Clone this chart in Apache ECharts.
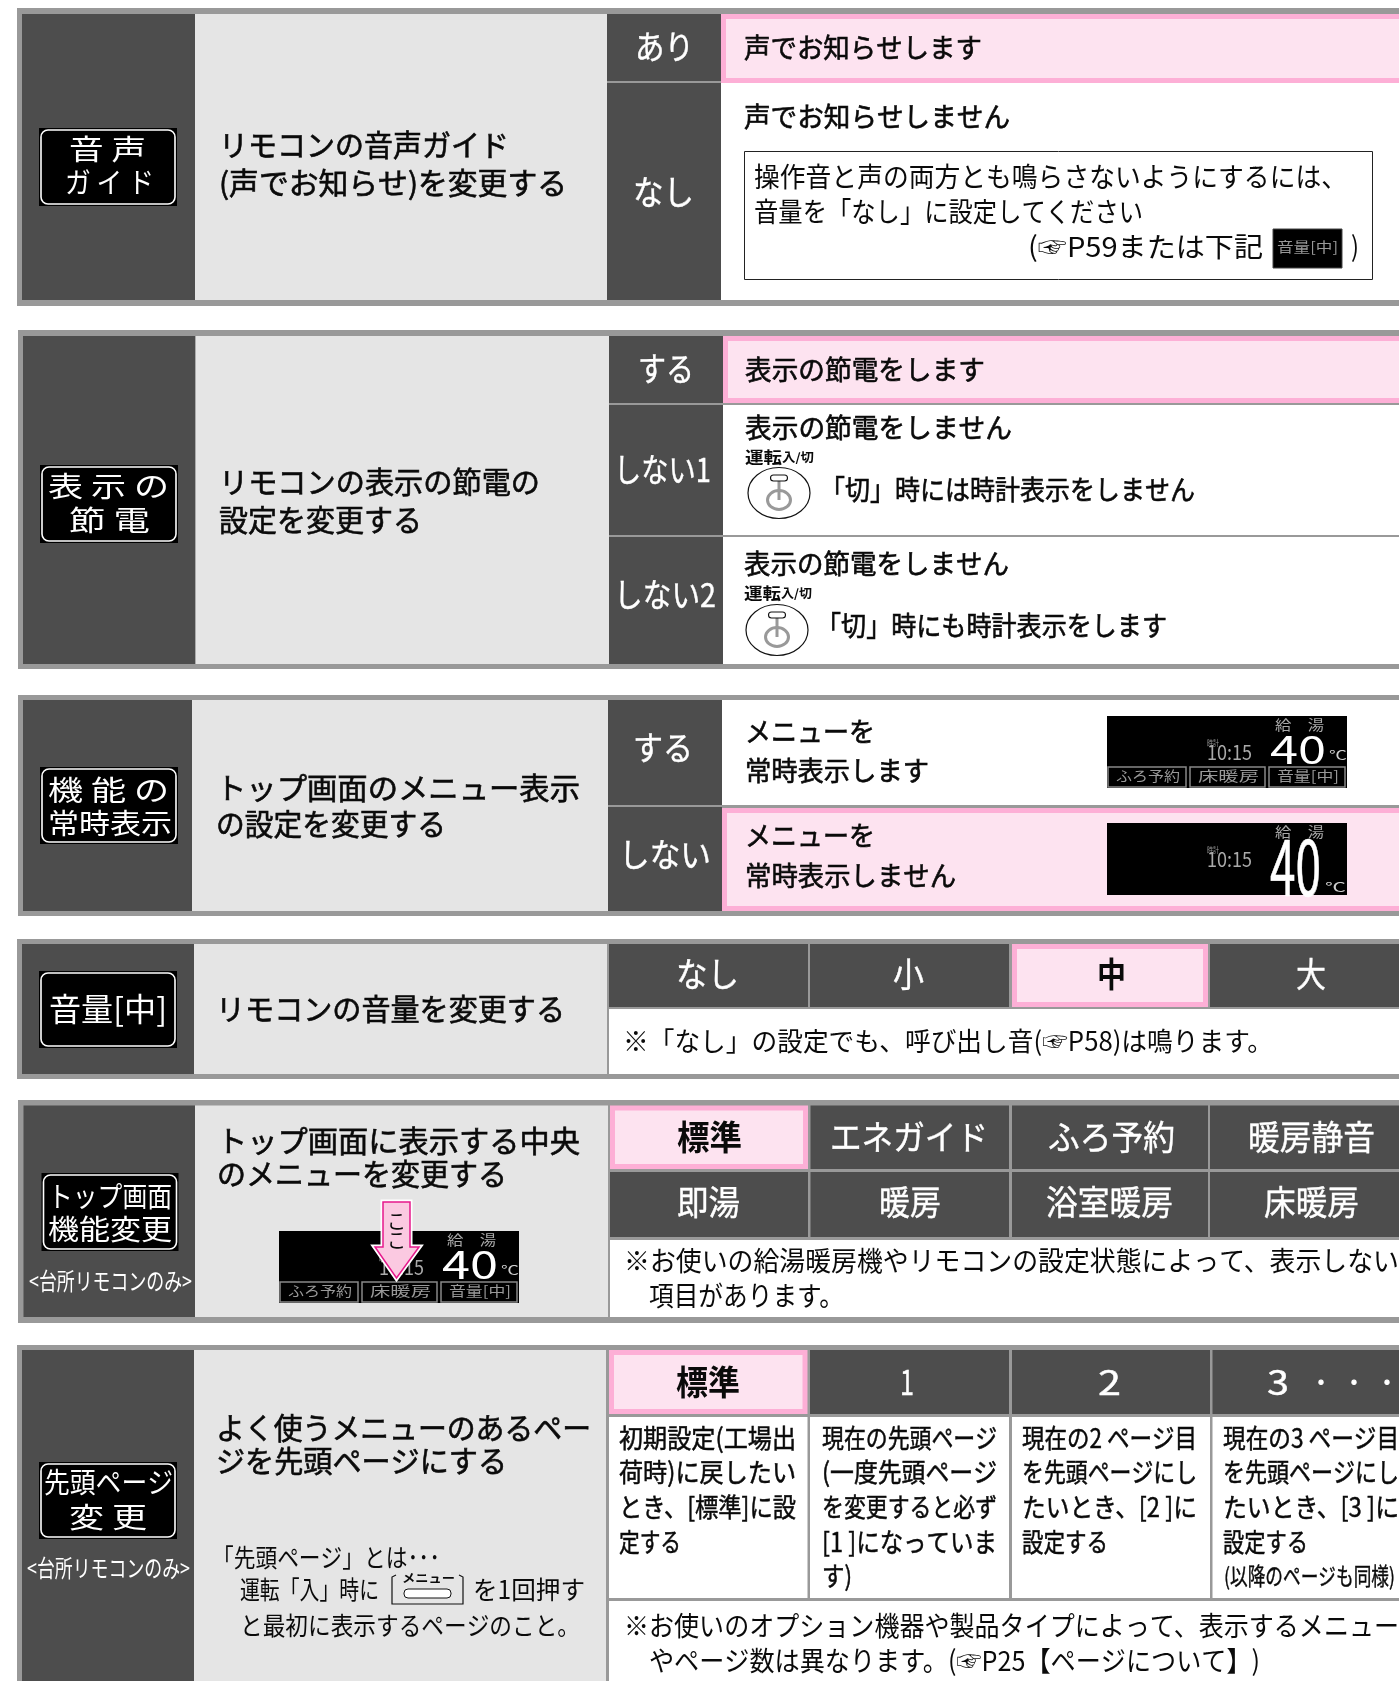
<!DOCTYPE html>
<html lang="ja"><head><meta charset="utf-8">
<style>html,body{margin:0;padding:0;background:#fff}#c{width:1399px;height:1681px}</style>
<script src="https://cdn.jsdelivr.net/npm/echarts@6/dist/echarts.min.js"></script>
</head><body><div id="c"></div>
<script>
// ---------- content ----------
const lcdLabels = [["音 声","ガ イ ド"],["表 示 の","節 電"],["機 能 の","常時表示"],["音量[中]"],["トップ画面","機能変更"],["先頭ページ","変 更"]];
const headings = [["リモコンの音声ガイド","(声でお知らせ)を変更する"],["リモコンの表示の節電の","設定を変更する"],["トップ画面のメニュー表示","の設定を変更する"],["リモコンの音量を変更する"],["トップ画面に表示する中央","のメニューを変更する"],["よく使うメニューのあるペー","ジを先頭ページにする"]];
const kitchenOnly = "<台所リモコンのみ>";
const voiceOptions = ["あり","なし"];
const voiceText = ["声でお知らせします","声でお知らせしません"];
const voiceNote = ["操作音と声の両方とも鳴らさないようにするには、","音量を「なし」に設定してください","(☞P59または下記",")"];
const savingOptions = ["する","しない1","しない2"];
const savingText = ["表示の節電をします","表示の節電をしません","「切」時には時計表示をしません","「切」時にも時計表示をします"];
const powerLabel = ["運転","入/切"];
const menuOptions = ["する","しない"];
const menuText = ["メニューを","常時表示します","常時表示しません"];
const volumeOptions = ["なし","小","中","大"];
const volumeNote = "※「なし」の設定でも、呼び出し音(☞P58)は鳴ります。";
const centerRow1 = ["標準","エネガイド","ふろ予約","暖房静音"];
const centerRow2 = ["即湯","暖房","浴室暖房","床暖房"];
const centerNote = ["※お使いの給湯暖房機やリモコンの設定状態によって、表示しない","項目があります。"];
const pageOptions = ["標準","1","2","3","・"];
const pageCol1 = ["初期設定(工場出","荷時)に戻したい","とき、[標準]に設","定する"];
const pageCol2 = ["現在の先頭ページ","(一度先頭ページ","を変更すると必ず","[1 ]になっていま","す)"];
const pageCol3 = ["現在の2 ページ目","を先頭ページにし","たいとき、[2 ]に","設定する"];
const pageCol4 = ["現在の3 ページ目","を先頭ページにし","たいとき、[3 ]に","設定する","(以降のページも同様)"];
const pageNote = ["※お使いのオプション機器や製品タイプによって、表示するメニュー","やページ数は異なります。(☞P25【ページについて】)"];
const pageExplain = ["「先頭ページ」とは･･･","運転「入」時に","を1回押す","と最初に表示するページのこと。"];
const menuKey = "メニュー";
const displayText = ["給　湯","10:15","40","℃","ふろ予約","床暖房","音量[中]","時計"];
const arrowText = ["こ","こ"];

// ---------- styles ----------
const DARK="#4d4d4d",LIGHT="#e5e5e5",FRAME="#999999",PINKB="#fdafd6",PINK="#fde3f0",WHITE="#ffffff",INK="#0a0a0a";
const FONT='"Noto Sans CJK JP","DejaVu Sans",sans-serif';
const g=[];
const ctx=document.createElement("canvas").getContext("2d");
function R(x0,y0,x1,y1,fill,extra){g.push({type:"rect",silent:true,shape:Object.assign({x:x0,y:y0,width:x1-x0,height:y1-y0},extra&&extra.shape||{}),style:{fill:fill,stroke:extra&&extra.stroke||null,lineWidth:extra&&extra.lw||0}});}
function T(s,x0,x1,y,size,o){o=o||{};const w=o.weight||"normal";const fs=size>=18?size*1.06:size;const font=w+" "+fs+"px "+FONT;ctx.font=font;const m=ctx.measureText(s).width;
  const col=o.fill||INK;const st={text:s,x:0,y:0,font:font,fill:col,textAlign:"left",textVerticalAlign:"middle"};
  if(o.b){st.stroke=col;st.lineWidth=o.b;}
  g.push({type:"text",silent:true,x:x0,y:y-1,scaleX:(x1-x0)/m,scaleY:o.sy||1,style:st});}
function pinkCell(x0,y0,x1,y1,b){R(x0,y0,x1,y1,PINKB);R(x0+b,y0+b,x1-b,y1-b,PINK);}
function lcd(x0,y0,x1,y1){R(x0,y0,x1,y1,"#000");R(x0+2,y0+2,x1-2,y1-2,"#000",{stroke:"#fff",lw:1.6,shape:{r:7}});}
function display(X,Y,big){
  R(X,Y,X+240,Y+72,"#000");
  T(displayText[0],X+168,X+217,Y+10,14,{fill:"#aaaaaa"});
  T(displayText[7],X+100,X+112,Y+28,8,{fill:"#999999"});
  T(displayText[1],X+100,X+145,Y+37,19,{fill:"#aaaaaa"});
  if(big){T(displayText[2],X+163,X+214,Y+45,36,{fill:"#fff",sy:2,b:.3});T(displayText[3],X+218,X+239,Y+65,12,{fill:"#cccccc"});}
  else{
    T(displayText[2],X+163,X+219,Y+34,36,{fill:"#fff"});T(displayText[3],X+222,X+240,Y+40,12,{fill:"#cccccc"});
    [[1,79,0],[83,158,1],[162,238,2]].forEach(c=>{R(X+c[0],Y+51,X+c[1],Y+71,"#000",{stroke:"#888",lw:1.5});T(displayText[4+c[2]],X+c[0]+8,X+c[1]-6,Y+61,14,{fill:"#999999"});});
  }
}
function power(cx,cy){
  g.push({type:"ellipse",silent:true,shape:{cx:cx,cy:cy,rx:31,ry:25.5},style:{fill:"#fff",stroke:"#111",lineWidth:1.2}});
  g.push({type:"ellipse",silent:true,shape:{cx:cx,cy:cy+7,rx:11.5,ry:9.5},style:{fill:"none",stroke:"#999",lineWidth:3}});
  g.push({type:"line",silent:true,shape:{x1:cx,y1:cy-12,x2:cx,y2:cy+7},style:{stroke:"#999",lineWidth:3}});
  R(cx-8.5,cy-18,cx+8.5,cy-12,"#fff",{stroke:"#111",lw:1.1,shape:{r:3}});
}
function white(s,x0,x1,y,size,o){T(s,x0,x1,y,size,Object.assign({fill:"#fff",b:.4},o||{}));}
const EM=.6;

// ---------- panel 1 ----------
R(17,8,1399,306,FRAME);R(22,14,195,300,DARK);R(195,14,607,300,LIGHT);
R(607,14,721,81,DARK);R(607,83,721,300,DARK);R(721,83,1399,300,WHITE);pinkCell(721,14,1410,83,5);
lcd(39,128,177,206);
T(lcdLabels[0][0],69,146,150,27,{fill:"#fff"});T(lcdLabels[0][1],65,154,183,27,{fill:"#fff"});
T(headings[0][0],219,509,146,28,{b:EM});T(headings[0][1],219,567,184,28,{b:EM});
white(voiceOptions[0],635,694,48,31);white(voiceOptions[1],633,694,193,32);
T(voiceText[0],744,982,49,26,{b:EM});T(voiceText[1],744,1010,118,26,{b:EM});
R(744.5,151.5,1372.5,279.5,"#fff",{stroke:"#222",lw:1});
T(voiceNote[0],754,1347,178,26);T(voiceNote[1],754,1143,213,26);T(voiceNote[2],1028,1263,248,26);
R(1273,229,1342,268,"#000",{stroke:"#444",lw:1});T(lcdLabels[3][0],1277,1338,248,14,{fill:"#999"});
T(voiceNote[3],1351,1359,248,26);

// ---------- panel 2 ----------
R(18,330,1399,669,FRAME);R(23,336,195.5,664,DARK);R(195.5,336,609,664,LIGHT);
R(609,336,723,403,DARK);R(609,405,723,535,DARK);R(609,537,723,664,DARK);
R(723,405,1399,535,WHITE);R(723,537,1399,664,WHITE);pinkCell(723,336,1410,403,5);
lcd(40,465,178,543);
T(lcdLabels[1][0],48,169,487,27,{fill:"#fff"});T(lcdLabels[1][1],69,150,521,27,{fill:"#fff"});
T(headings[1][0],219,540,483,28,{b:EM});T(headings[1][1],219,422,521,28,{b:EM});
white(savingOptions[0],638,694,370,31);white(savingOptions[1],614,711,471,31);white(savingOptions[2],614,716,596,31);
T(savingText[0],745,985,371,26,{b:EM});T(savingText[1],745,1012,429,26,{b:EM});
T(powerLabel[0],745,782,458,16,{weight:"bold"});T(powerLabel[1],782,814,458,12,{weight:"bold"});power(779,493);
T(savingText[2],820,1195,491,26,{b:EM});
T(savingText[1],744,1009,565,26,{b:EM});T(powerLabel[0],744,781,594,16,{weight:"bold"});T(powerLabel[1],781,812,594,12,{weight:"bold"});power(777,630);
T(savingText[3],816,1167,627,26,{b:EM});

// ---------- panel 3 ----------
R(18,695,1399,916,FRAME);R(23,700,192,911,DARK);R(192,700,608,911,LIGHT);
R(608,700,722,805,DARK);R(608,807,722,911,DARK);R(722,700,1399,805,WHITE);pinkCell(722,808,1410,911,5);
lcd(40,767,178,844);
T(lcdLabels[2][0],48,169,791,27,{fill:"#fff"});T(lcdLabels[2][1],48,172,824,27,{fill:"#fff"});
T(headings[2][0],216,580,789,28,{b:EM});T(headings[2][1],216,446,825,28,{b:EM});
white(menuOptions[0],633,693,749,31);white(menuOptions[1],619,711,856,31);
T(menuText[0],745,875,733,26,{b:EM});T(menuText[1],745,929,772,26,{b:EM});
T(menuText[0],745,875,837,26,{b:EM});T(menuText[2],745,956,877,26,{b:EM});
display(1107,716,false);display(1107,823,true);

// ---------- panel 4 ----------
R(17,939,1399,1079,FRAME);R(22,944,194,1074,DARK);R(194,944,607,1074,LIGHT);
R(609,944,808,1007,DARK);R(810,944,1009,1007,DARK);pinkCell(1012,944,1208,1007,5);R(1210,944,1399,1007,DARK);R(609,1009,1399,1074,WHITE);
lcd(39,971,177,1048);T(lcdLabels[3][0],49,167,1010,30,{fill:"#fff"});
T(headings[3][0],216,565,1010,28,{b:EM});
white(volumeOptions[0],676,739,975,32);white(volumeOptions[1],893,924,975,32);
T(volumeOptions[2],1097,1126,975,32,{weight:"bold"});white(volumeOptions[3],1296,1326,975,32);
T(volumeNote,623,1273,1042,25);

// ---------- panel 5 ----------
R(18,1100,1399,1323,FRAME);R(23.5,1105.5,195,1317,DARK);R(195,1105.5,608,1317,LIGHT);
pinkCell(610,1105.5,808,1169,5);R(810.5,1105.5,1009,1169,DARK);R(1012,1105.5,1208,1169,DARK);R(1210,1105.5,1399,1169,DARK);
R(610,1172,808,1237,DARK);R(810.5,1172,1009,1237,DARK);R(1012,1172,1208,1237,DARK);R(1210,1172,1399,1237,DARK);
R(610,1240,1399,1317,WHITE);
lcd(41.5,1173,178.5,1251);T(lcdLabels[4][0],48,172,1197,27,{fill:"#fff"});T(lcdLabels[4][1],48,172,1230,27,{fill:"#fff"});
T(kitchenOnly,29,192,1282,22,{fill:"#fff"});
T(headings[4][0],217,580,1142,28,{b:EM});T(headings[4][1],217,507,1175,28,{b:EM});
display(279,1231,false);
const arrowPts=[[383,1202],[410,1202],[410,1247],[419,1247],[396.5,1278],[375,1247],[383,1247]];
g.push({type:"polygon",silent:true,shape:{points:arrowPts},style:{fill:"#fff",stroke:"#fff",lineWidth:5}});
g.push({type:"polygon",silent:true,shape:{points:arrowPts},style:{fill:"#fbc9e1",stroke:"#e6198c",lineWidth:1.5}});
T(arrowText[0],387,406,1222,19);T(arrowText[1],387,406,1241,19);
T(centerRow1[0],677,742,1138,32,{weight:"bold"});white(centerRow1[1],830,988,1138,32);white(centerRow1[2],1048,1175,1138,32);white(centerRow1[3],1248,1375,1138,32);
white(centerRow2[0],677,740,1203,32);white(centerRow2[1],879,941,1203,32);white(centerRow2[2],1046,1173,1203,32);white(centerRow2[3],1264,1359,1203,32);
T(centerNote[0],624,1399,1262,26);T(centerNote[1],649,844,1297,26);

// ---------- panel 6 ----------
R(17,1345,1399,1690,FRAME);R(22,1350,194,1690,DARK);R(194,1350,606,1690,LIGHT);
pinkCell(609,1350,807.5,1414,5);R(810,1350,1009,1414,DARK);R(1012,1350,1210,1414,DARK);R(1212.5,1350,1399,1414,DARK);
R(609,1417,807.5,1598,WHITE);R(810,1417,1009,1598,WHITE);R(1012,1417,1210,1598,WHITE);R(1212.5,1417,1399,1598,WHITE);R(609,1601,1399,1690,WHITE);
lcd(39,1462,177,1539);T(lcdLabels[5][0],44,173,1483,27,{fill:"#fff"});T(lcdLabels[5][1],69,147,1518,27,{fill:"#fff"});
T(kitchenOnly,27,190,1569,22,{fill:"#fff"});
T(headings[5][0],216,591,1429,28,{b:EM});T(headings[5][1],216,507,1462,28,{b:EM});
T(pageExplain[0],212,440,1558,24);T(pageExplain[1],240,379,1590,24);T(pageExplain[2],473,585,1590,24);T(pageExplain[3],240,580,1626,24);
g.push({type:"polyline",silent:true,shape:{points:[[396,1575],[392,1577],[392,1604],[463,1604],[463,1577],[459,1575]]},style:{fill:"none",stroke:"#111",lineWidth:1.2}});
T(menuKey,402,455,1579,12,{weight:"bold"});R(404,1589,451,1598,"#fff",{stroke:"#111",lw:1,shape:{r:4}});
T(pageOptions[0],676,740,1383,32,{weight:"bold"});
white(pageOptions[1],900,914,1383,32);white(pageOptions[2],1098,1121,1383,32);white(pageOptions[3],1267,1289,1383,32);
[1321,1354,1387].forEach(c=>white(pageOptions[4],c-10,c+10,1383,20,{b:1}));
const lineY=[1439,1473,1508,1543,1577];
[[pageCol1,619,[796,796,796,681]],[pageCol2,822,[997,997,997,997,852]],[pageCol3,1022,[1197,1197,1197,1108]]].forEach(c=>{
  c[0].forEach((s,i)=>T(s,c[1],c[2][i],lineY[i],25,{b:.5}));});
[1399,1399,1399,1308].forEach((r,i)=>T(pageCol4[i],1223,r,lineY[i],25,{b:.5}));
T(pageCol4[4],1224,1395,1577,22,{b:.4});
T(pageNote[0],624,1399,1627,26);T(pageNote[1],649,1260,1662,26);

// ---------- chart ----------
const chart=echarts.init(document.getElementById("c"),null,{renderer:"canvas",width:1399,height:1681});
chart.setOption({animation:false,backgroundColor:"#fff",graphic:{elements:g}});
</script></body></html>
